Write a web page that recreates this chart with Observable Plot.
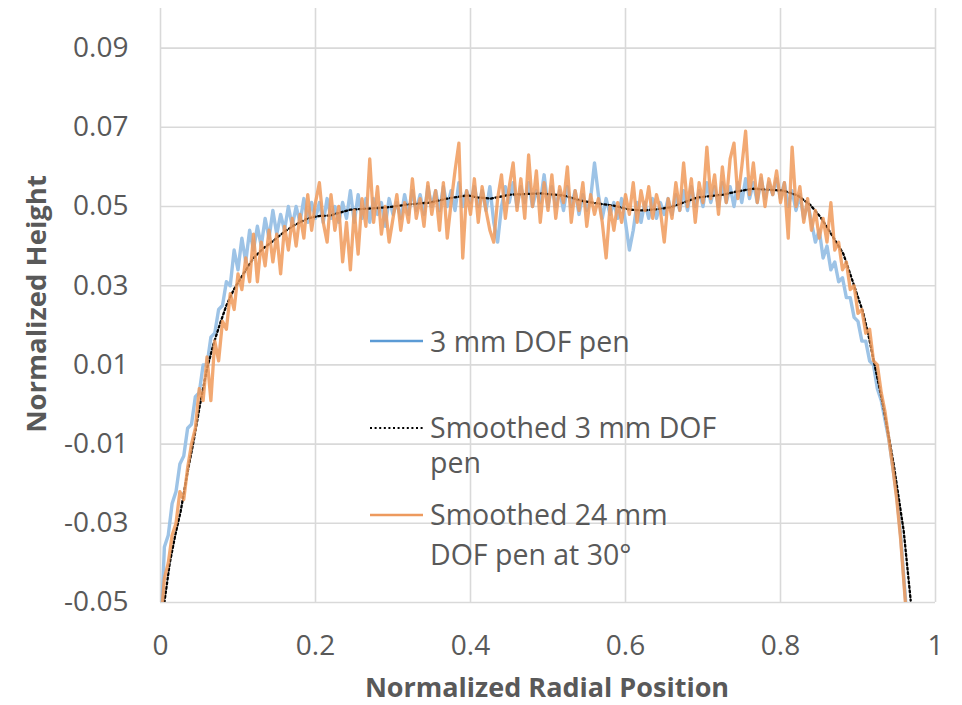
<!DOCTYPE html>
<html><head><meta charset="utf-8">
<script src="https://cdn.jsdelivr.net/npm/d3@7"></script>
<script src="https://cdn.jsdelivr.net/npm/@observablehq/plot@0.6"></script>
<style>body{margin:0;background:#fff;}</style>
</head><body><div id="chart"></div>
<script>
// Radial positions shared by the two noisy profiles
const radialPos = [
0.000,0.005,0.010,0.015,0.020,0.025,0.030,0.035,0.040,0.045,
0.050,0.055,0.060,0.065,0.070,0.075,0.080,0.085,0.090,0.095,
0.100,0.105,0.110,0.115,0.120,0.125,0.130,0.135,0.140,0.145,
0.150,0.155,0.160,0.165,0.170,0.175,0.180,0.185,0.190,0.195,
0.200,0.205,0.210,0.215,0.220,0.225,0.230,0.235,0.240,0.245,
0.250,0.255,0.260,0.265,0.270,0.275,0.280,0.285,0.290,0.295,
0.300,0.305,0.310,0.315,0.320,0.325,0.330,0.335,0.340,0.345,
0.350,0.355,0.360,0.365,0.370,0.375,0.380,0.385,0.390,0.395,
0.400,0.405,0.410,0.415,0.420,0.425,0.430,0.435,0.440,0.445,
0.450,0.455,0.460,0.465,0.470,0.475,0.480,0.485,0.490,0.495,
0.500,0.505,0.510,0.515,0.520,0.525,0.530,0.535,0.540,0.545,
0.550,0.555,0.560,0.565,0.570,0.575,0.580,0.585,0.590,0.595,
0.600,0.605,0.610,0.615,0.620,0.625,0.630,0.635,0.640,0.645,
0.650,0.655,0.660,0.665,0.670,0.675,0.680,0.685,0.690,0.695,
0.700,0.705,0.710,0.715,0.720,0.725,0.730,0.735,0.740,0.745,
0.750,0.755,0.760,0.765,0.770,0.775,0.780,0.785,0.790,0.795,
0.800,0.805,0.810,0.815,0.820,0.825,0.830,0.835,0.840,0.845,
0.850,0.855,0.860,0.865,0.870,0.875,0.880,0.885,0.890,0.895,
0.900,0.905,0.910,0.915,0.920,0.925,0.930,0.935,0.940,0.945,
0.950,0.955,0.960,0.965];

// 3 mm DOF pen (raw)
const pen3mm = [
-0.060,-0.036,-0.033,-0.025,-0.022,-0.015,-0.013,-0.006,-0.005,0.002,
0.003,0.010,0.010,0.017,0.018,0.024,0.025,0.031,0.030,0.039,
0.034,0.042,0.036,0.044,0.039,0.045,0.040,0.047,0.042,0.049,
0.043,0.048,0.044,0.050,0.045,0.050,0.046,0.052,0.046,0.051,
0.047,0.051,0.046,0.052,0.047,0.050,0.046,0.051,0.047,0.054,
0.046,0.053,0.047,0.052,0.046,0.052,0.048,0.051,0.045,0.052,
0.048,0.051,0.047,0.053,0.048,0.054,0.049,0.053,0.048,0.055,
0.050,0.054,0.049,0.055,0.050,0.054,0.049,0.056,0.050,0.054,
0.051,0.055,0.050,0.054,0.049,0.055,0.046,0.041,0.050,0.055,
0.051,0.056,0.050,0.055,0.051,0.056,0.050,0.054,0.051,0.058,
0.050,0.055,0.050,0.054,0.049,0.055,0.050,0.054,0.048,0.053,
0.049,0.052,0.061,0.053,0.047,0.052,0.048,0.051,0.047,0.052,
0.046,0.039,0.044,0.051,0.046,0.051,0.047,0.052,0.047,0.051,
0.048,0.052,0.048,0.053,0.049,0.054,0.049,0.055,0.050,0.054,
0.050,0.056,0.051,0.055,0.050,0.056,0.051,0.055,0.050,0.056,
0.051,0.057,0.052,0.056,0.051,0.057,0.052,0.056,0.053,0.057,
0.052,0.056,0.050,0.054,0.049,0.053,0.047,0.051,0.046,0.041,
0.044,0.037,0.040,0.034,0.036,0.031,0.032,0.027,0.027,0.022,
0.021,0.016,0.016,0.011,0.010,0.004,0.001,-0.004,-0.009,-0.016,
-0.023,-0.033,-0.046,-0.058];

// Smoothed 24 mm DOF pen at 30°
const pen24mm30 = [
-0.056,-0.044,-0.040,-0.033,-0.030,-0.022,-0.024,-0.016,-0.010,-0.006,
0.004,0.001,0.012,0.001,0.016,0.011,0.021,0.019,0.028,0.024,
0.033,0.029,0.037,0.031,0.043,0.031,0.041,0.035,0.044,0.036,
0.043,0.033,0.045,0.039,0.047,0.040,0.048,0.042,0.053,0.044,
0.051,0.056,0.046,0.041,0.053,0.044,0.050,0.036,0.046,0.034,
0.049,0.038,0.052,0.045,0.062,0.046,0.055,0.043,0.050,0.041,
0.047,0.053,0.044,0.051,0.046,0.057,0.047,0.052,0.045,0.056,
0.048,0.054,0.044,0.056,0.042,0.051,0.059,0.066,0.037,0.054,
0.048,0.057,0.046,0.055,0.049,0.044,0.041,0.052,0.058,0.047,
0.055,0.061,0.049,0.057,0.047,0.063,0.050,0.059,0.046,0.056,
0.049,0.058,0.047,0.055,0.051,0.060,0.046,0.054,0.049,0.056,
0.045,0.053,0.048,0.052,0.046,0.037,0.050,0.044,0.051,0.046,
0.053,0.048,0.056,0.046,0.054,0.049,0.055,0.047,0.053,0.049,
0.041,0.052,0.047,0.056,0.049,0.061,0.050,0.057,0.046,0.056,
0.051,0.065,0.052,0.058,0.048,0.060,0.051,0.062,0.066,0.052,
0.060,0.069,0.053,0.061,0.051,0.058,0.050,0.057,0.053,0.059,
0.051,0.056,0.042,0.065,0.050,0.055,0.046,0.052,0.044,0.049,
0.042,0.047,0.041,0.051,0.039,0.041,0.034,0.036,0.029,0.030,
0.023,0.024,0.018,0.019,0.011,0.010,0.003,-0.002,-0.009,-0.016,
-0.024,-0.034,-0.047,-0.060];

// Smoothed 3 mm DOF pen
const smoothX = [0.005,0.012,0.019,0.026,0.034,0.043,0.051,0.060,0.068,0.077,0.085,0.094,0.107,0.120,0.133,0.146,0.159,0.172,0.190,0.205,0.219,0.232,0.245,0.271,0.293,0.319,0.348,0.370,0.396,0.409,0.426,0.452,0.490,0.520,0.542,0.563,0.585,0.606,0.623,0.640,0.658,0.675,0.693,0.726,0.744,0.765,0.778,0.804,0.822,0.839,0.852,0.865,0.881,0.894,0.907,0.914,0.921,0.933,0.946,0.959,0.968];
const smoothY = [-0.050,-0.040,-0.033,-0.027,-0.018,-0.009,0.000,0.009,0.015,0.0205,0.025,0.0288,0.033,0.037,0.0395,0.0414,0.0435,0.0452,0.047,0.0476,0.0477,0.0485,0.0492,0.0495,0.0498,0.0505,0.051,0.052,0.0528,0.0523,0.052,0.053,0.0533,0.0528,0.0515,0.0508,0.0502,0.0492,0.049,0.0493,0.0498,0.051,0.0523,0.053,0.0538,0.0545,0.0543,0.054,0.0528,0.0503,0.0472,0.0432,0.0381,0.0306,0.023,0.017,0.0104,-0.0008,-0.015,-0.032,-0.0495];

const xTicks = [0, 0.2, 0.4, 0.6, 0.8, 1];
const yTicks = [-0.05, -0.03, -0.01, 0.01, 0.03, 0.05, 0.07, 0.09];
const xTitle = "Normalized Radial Position";
const yTitle = "Normalized Height";

const blueData = radialPos.map((x, i) => ({x, y: pen3mm[i]}));
const orangeData = radialPos.map((x, i) => ({x, y: pen24mm30[i]}));
const smoothData = smoothX.map((x, i) => ({x, y: smoothY[i]}));

const FONT = "'Open Sans', sans-serif";
const plot = Plot.plot({
  width: 962, height: 705,
  marginLeft: 160, marginRight: 27, marginTop: 8, marginBottom: 103,
  style: {fontFamily: FONT, fontSize: "28px", color: "#595959", background: "#fff"},
  x: {domain: [0, 1]},
  y: {domain: [-0.05, 0.1]},
  marks: [
    Plot.ruleX(xTicks, {stroke: "#d9d9d9", strokeWidth: 1.6}),
    Plot.ruleY(yTicks, {stroke: "#d9d9d9", strokeWidth: 1.6}),
    Plot.axisX(xTicks, {tickSize: 0, tickPadding: 33, tickFormat: d => String(d), label: null, fill: "#595959"}),
    Plot.axisY(yTicks, {tickSize: 0, tickPadding: 32, tickFormat: d => d.toFixed(2), label: null, fill: "#595959"}),
    Plot.line(blueData, {x: "x", y: "y", stroke: "#9dc3e6", strokeWidth: 3.4, clip: true}),
    Plot.line(smoothData, {x: "x", y: "y", stroke: "#000", strokeWidth: 2.3, strokeDasharray: "2,2.6", clip: true}),
    Plot.line(orangeData, {x: "x", y: "y", stroke: "#f09a5a", strokeWidth: 3.3, strokeOpacity: 0.85, clip: true})
  ]
});
document.getElementById("chart").appendChild(plot);

const svg = d3.select(plot);
// axis titles
svg.append("text").attr("x", 547).attr("y", 697).attr("text-anchor", "middle")
  .attr("font-family", FONT).attr("font-size", 27).attr("font-weight", "bold").attr("fill", "#595959").text(xTitle);
svg.append("text").attr("transform", "translate(46,304) rotate(-90)").attr("text-anchor", "middle")
  .attr("font-family", FONT).attr("font-size", 27.5).attr("font-weight", "bold").attr("fill", "#595959").text(yTitle);

// legend
const lg = svg.append("g").attr("font-family", FONT).attr("font-size", 28.5).attr("fill", "#595959").attr("text-anchor", "start");
lg.append("line").attr("x1", 370).attr("x2", 423).attr("y1", 341).attr("y2", 341).attr("stroke", "#5b9bd5").attr("stroke-width", 2.5);
lg.append("text").attr("x", 430).attr("y", 352).text("3 mm DOF pen");
lg.append("line").attr("x1", 370).attr("x2", 423).attr("y1", 428).attr("y2", 428).attr("stroke", "#000").attr("stroke-width", 2).attr("stroke-dasharray", "2,2.6");
lg.append("text").attr("x", 430).attr("y", 438).text("Smoothed 3 mm DOF");
lg.append("text").attr("x", 430).attr("y", 473).text("pen");
lg.append("line").attr("x1", 370).attr("x2", 423).attr("y1", 515).attr("y2", 515).attr("stroke", "#ed9a5e").attr("stroke-width", 2.5);
lg.append("text").attr("x", 430).attr("y", 525).text("Smoothed 24 mm");
lg.append("text").attr("x", 430).attr("y", 565).text("DOF pen at 30°");
</script></body></html>
